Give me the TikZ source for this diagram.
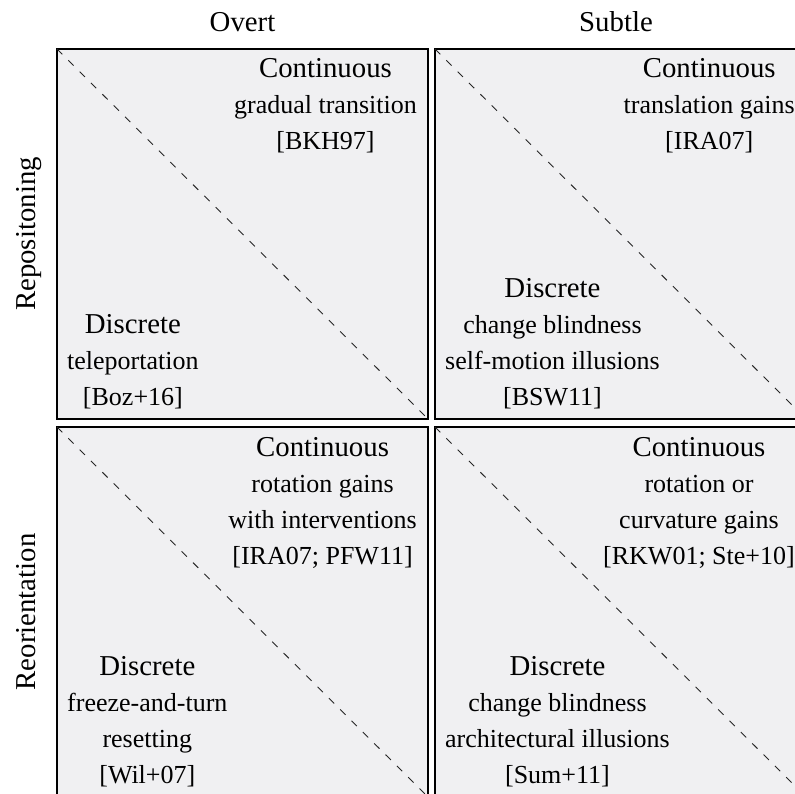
\documentclass[tikz,border=0pt]{standalone}
\usepackage{fontspec}
\setmainfont{Liberation Serif}
\newcommand{\bigf}{\fontsize{28.8}{36}\selectfont}
\newcommand{\topline}{\rule{0pt}{24pt}}
\newcommand{\botline}{\rule[-10pt]{0pt}{10pt}}
\definecolor{cellfill}{RGB}{240,240,242}
\begin{document}
\begin{tikzpicture}[x=1pt,y=-1pt,
  cell/.style={draw=black, line width=1.1pt, fill=cellfill},
  diag/.style={draw=black!85, line width=0.9pt, dash pattern=on 7.5pt off 8.5pt},
  txt/.style={align=center, inner sep=0pt, font=\fontsize{26}{36}\selectfont},
  contblock/.style={txt, anchor=north east},
  discblock/.style={txt, anchor=south west},
  header/.style={font=\bigf, inner sep=0pt, anchor=base},
  side/.style={font=\bigf, inner sep=0pt, anchor=base, rotate=90}]
\useasboundingbox (0,0) rectangle (795,794);
\clip (0,0) rectangle (795,794);

% the four cells
\path[cell] (57,49) rectangle (428,419);
\path[cell] (435,49) rectangle (806,419);
\path[cell] (57,427) rectangle (428,797);
\path[cell] (435,427) rectangle (806,797);

% diagonals
\coordinate (tlA) at (57,49);   \coordinate (tlB) at (428,419);
\coordinate (trA) at (435,49);  \coordinate (trB) at (806,419);
\coordinate (blA) at (57,427);  \coordinate (blB) at (428,797);
\coordinate (brA) at (435,427); \coordinate (brB) at (806,797);
\draw[diag] (tlA) -- (tlB);
\draw[diag] (trA) -- (trB);
\draw[diag] (blA) -- (blB);
\draw[diag] (brA) -- (brB);

% column and row headings
\node[header] (overt) at (242.5,32) {Overt};
\node[header] (subtle) at (616,32) {Subtle};
\node[side] (repos) at (35,234) {Repositoning};
\node[side] (reori) at (35,612) {Reorientation};

% repositioning, overt
\node[contblock] (tlc) at (417,53) {{\bigf\topline Continuous}\\ gradual transition\\ {[BKH97]}};
\node[discblock] (tld) at (67,416) {{\bigf Discrete}\\ teleportation\\ {[Boz+16]}\botline};

% repositioning, subtle
\node[contblock] (trc) at (795,53) {{\bigf\topline Continuous}\\ translation gains\\ {[IRA07]}};
\node[discblock] (trd) at (445,416) {{\bigf Discrete}\\ change blindness\\ self-motion illusions\\ {[BSW11]}\botline};

% reorientation, overt
\node[contblock] (blc) at (417,432.5) {{\bigf\topline Continuous}\\ rotation gains\\ with interventions\\ {[IRA07; PFW11]}};
\node[discblock] (bld) at (67,794) {{\bigf Discrete}\\ freeze-and-turn\\ resetting\\ {[Wil+07]}\botline};

% reorientation, subtle
\node[contblock] (brc) at (795,432.5) {{\bigf\topline Continuous}\\ rotation or\\ curvature gains\\ {[RKW01; Ste+10]}};
\node[discblock] (brd) at (445,793.5) {{\bigf Discrete}\\ change blindness\\ architectural illusions\\ {[Sum+11]}\botline};
\end{tikzpicture}
\end{document}
